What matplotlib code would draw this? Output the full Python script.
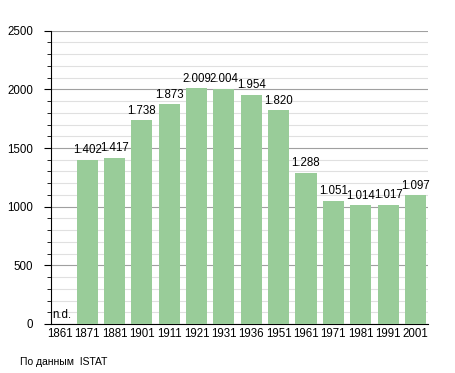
import numpy as np
import matplotlib.pyplot as plt
from matplotlib.ticker import MultipleLocator

plt.rcParams['font.family'] = ['Liberation Sans', 'DejaVu Sans']

years = ['1861', '1871', '1881', '1901', '1911', '1921', '1931', '1936',
         '1951', '1961', '1971', '1981', '1991', '2001']
population = [0, 1402, 1417, 1738, 1873, 2009, 2004, 1954,
              1820, 1288, 1051, 1014, 1017, 1097]
labels = ['n.d.', '1.402', '1.417', '1.738', '1.873', '2.009', '2.004', '1.954',
          '1.820', '1.288', '1.051', '1.014', '1.017', '1.097']

fig = plt.figure(figsize=(4.55, 3.73), dpi=100)
ax = fig.add_axes([51 / 455, 1 - 324 / 373, 377 / 455, 293.3 / 373])

x = np.arange(len(years))
ax.bar(x, population, width=0.77, color='#99cc99', zorder=3)

for xi, v, lab in zip(x, population, labels):
    if v == 0:
        ax.text(-0.28, 25, lab, fontsize=8.3, ha='left', va='bottom', zorder=4)
    else:
        ax.text(xi, v + 30, lab, fontsize=8.3, ha='center', va='bottom', zorder=4)

ax.set_xlim(-0.32, 13.46)
ax.set_ylim(0, 2500)
ax.set_xticks(x)
ax.set_xticklabels(years, fontsize=8.3)
ax.tick_params(axis='x', length=0, pad=3)

ax.yaxis.set_major_locator(MultipleLocator(500))
ax.yaxis.set_minor_locator(MultipleLocator(100))
ax.tick_params(axis='y', which='major', length=5, labelsize=8.3, pad=8)
ax.tick_params(axis='y', which='minor', length=3)

ax.grid(axis='y', which='major', color='#a0a0a0', linewidth=0.8, zorder=0)
ax.grid(axis='y', which='minor', color='#e0e0e0', linewidth=0.8, zorder=0)

ax.spines['top'].set_visible(False)
ax.spines['right'].set_visible(False)
ax.spines['left'].set_linewidth(0.8)
ax.spines['bottom'].set_linewidth(0.8)

fig.text(20 / 455, 1 - 362 / 373, 'По данным  ISTAT', fontsize=7.5, va='center')

fig.savefig('out.png', dpi=100)
